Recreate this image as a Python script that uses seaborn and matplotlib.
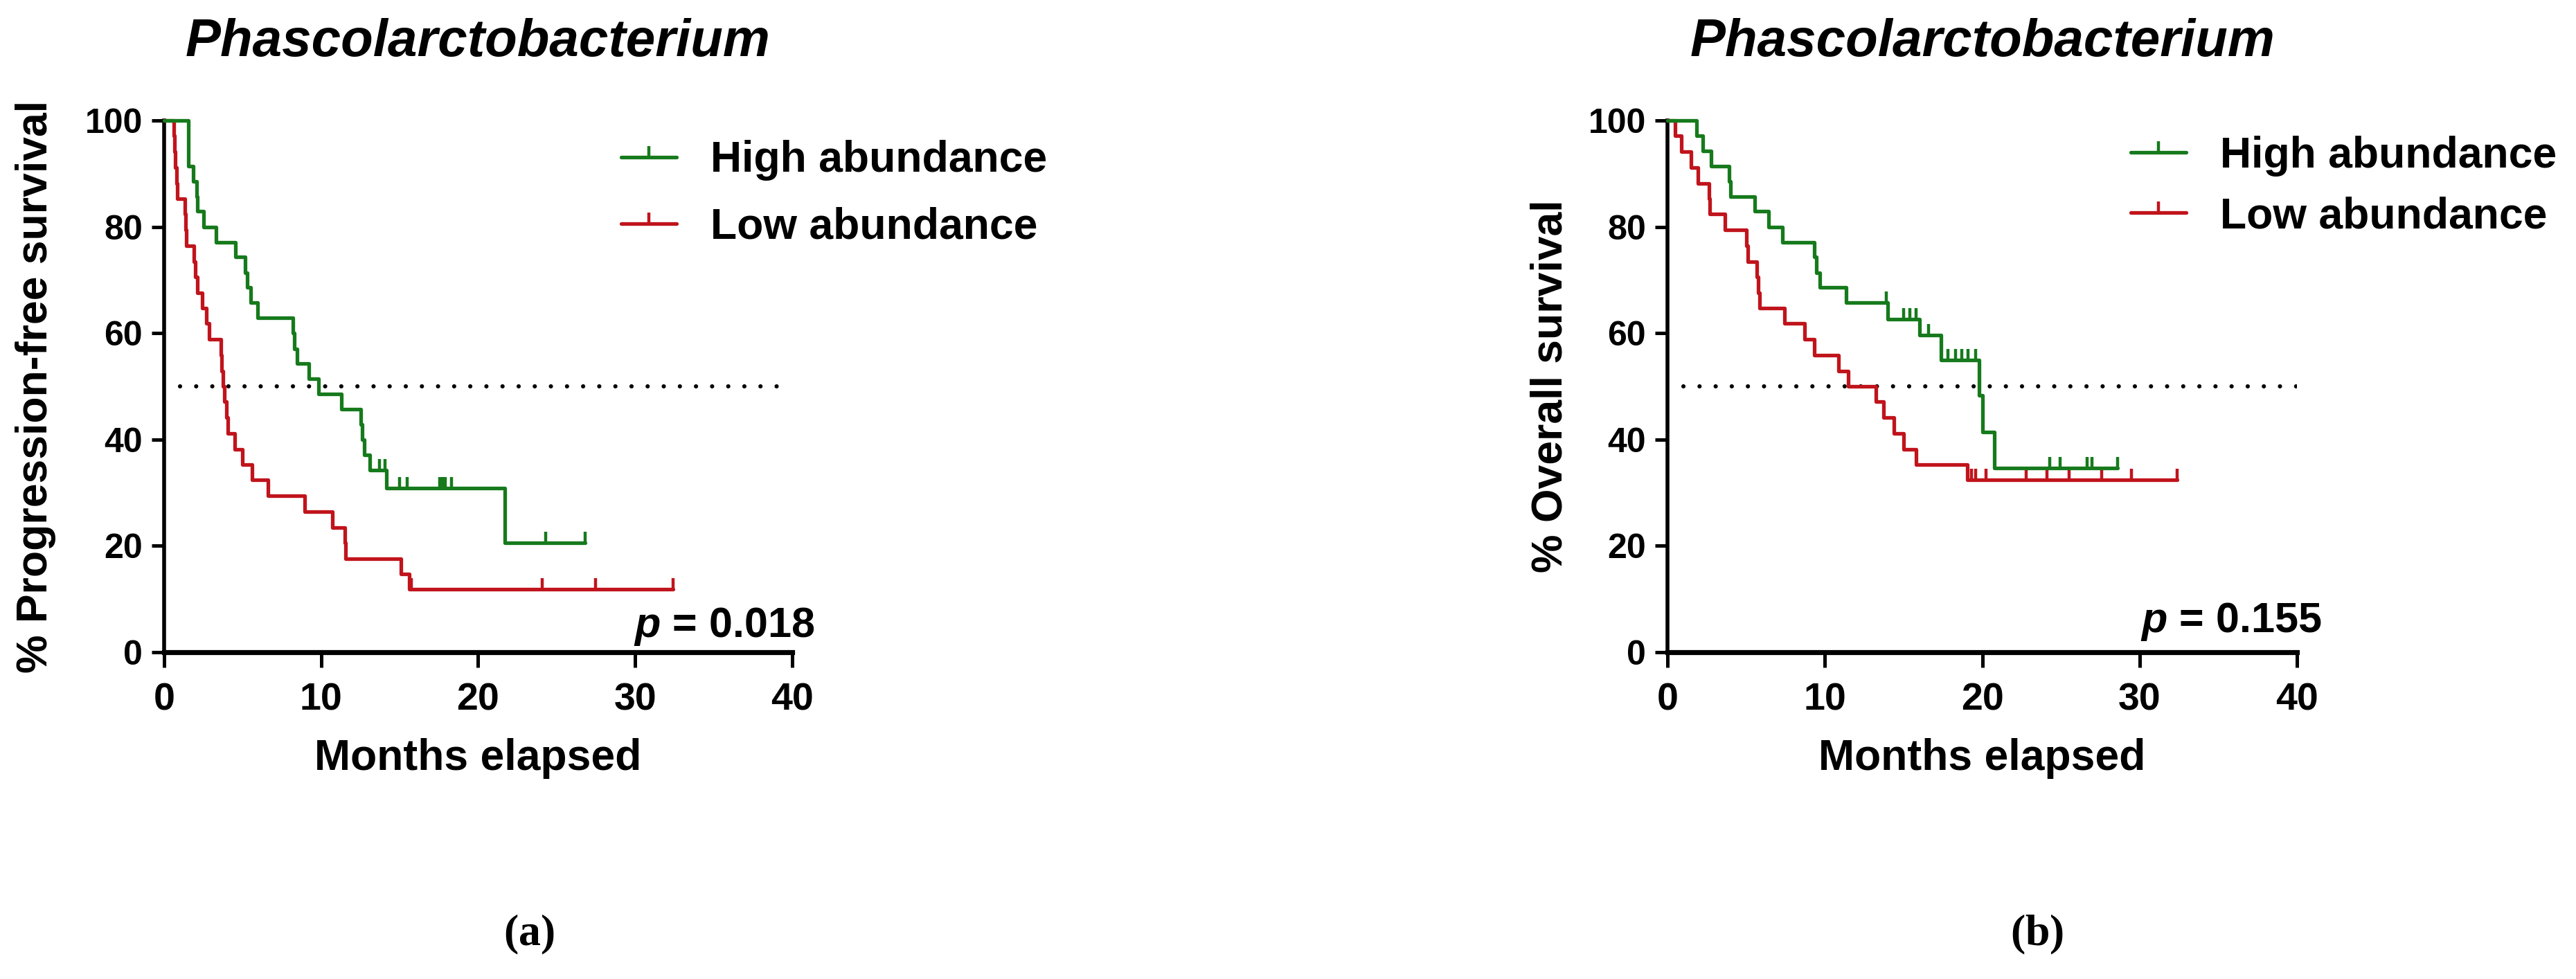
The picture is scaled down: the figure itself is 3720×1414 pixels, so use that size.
import numpy as np
import pandas as pd
import seaborn as sns
import matplotlib.pyplot as plt
from matplotlib.lines import Line2D

# ---- data (months, % surviving after each drop) ----
groups = ["High abundance", "Low abundance"]
colors = ["#167a1c", "#c0141c"]

# progression-free survival
pfs_high_t = [1.54, 1.84, 2.06, 2.12, 2.5, 3.3, 4.55, 5.14, 5.3, 5.5, 5.95, 8.22, 8.3, 8.45,
              9.2, 9.84, 11.3, 12.54, 12.62, 12.75, 13.1, 14.15, 21.7]
pfs_high_s = [91.4, 88.6, 85.7, 82.9, 80.0, 77.1, 74.3, 71.4, 68.6, 65.7, 62.9, 60.0, 57.1, 54.3,
              51.4, 48.6, 45.7, 42.9, 40.0, 37.1, 34.3, 30.9, 20.6]
pfs_high_cens = [13.73, 14.07, 15.0, 15.5, 17.54, 17.75, 17.9, 18.3, 24.3, 26.8]

pfs_low_t = [0.60, 0.66, 0.72, 0.80, 0.85, 1.32, 1.36, 1.40, 1.91, 2.0, 2.13, 2.42, 2.7, 2.86,
             3.6, 3.68, 3.76, 3.86, 3.98, 4.05, 4.5, 5.0, 5.6, 6.6, 8.94, 10.7, 11.5, 11.55,
             15.1, 15.6]
pfs_low_s = [97.1, 94.1, 91.2, 88.2, 85.3, 82.4, 79.4, 76.5, 73.5, 70.6, 67.6, 64.7, 61.8, 58.8,
             55.9, 52.9, 50.0, 47.1, 44.1, 41.2, 38.2, 35.3, 32.4, 29.4, 26.5, 23.5, 20.6, 17.6,
             14.7, 11.8]
pfs_low_cens = [15.76, 24.07, 27.5, 32.4]

# overall survival
os_high_t = [1.87, 2.25, 2.76, 3.9, 4.0, 5.54, 6.42, 7.3, 9.33, 9.45, 9.7, 11.35, 14.0, 16.0,
             17.4, 19.8, 20.0, 20.77]
os_high_s = [97.1, 94.3, 91.4, 88.6, 85.7, 82.9, 80.0, 77.1, 74.3, 71.4, 68.6, 65.7, 62.6, 59.6,
             55.0, 48.3, 41.4, 34.6]
os_high_cens = [13.9, 15.0, 15.4, 15.8, 16.6, 17.8, 18.3, 18.7, 19.1, 19.6, 24.3, 24.95,
                26.65, 26.95, 28.6]

os_low_t = [0.5, 0.9, 1.5, 1.95, 2.63, 2.7, 3.64, 5.03, 5.1, 5.66, 5.75, 5.85, 7.43, 8.7, 9.33,
            10.85, 11.48, 13.25, 13.75, 14.4, 15.0, 15.8, 19.06]
os_low_s = [97.1, 94.1, 91.2, 88.2, 85.3, 82.4, 79.4, 76.5, 73.5, 70.6, 67.6, 64.7, 61.8, 58.8,
            55.9, 52.9, 50.0, 47.1, 44.1, 41.2, 38.2, 35.3, 32.4]
os_low_cens = [19.3, 19.6, 20.25, 22.8, 24.1, 25.5, 27.6, 29.5, 32.4]

median_level = 50
median_span = [1, 40]
x_ticks = [0, 10, 20, 30, 40]
y_ticks = [0, 20, 40, 60, 80, 100]

titles = ["Phascolarctobacterium", "Phascolarctobacterium"]
ylabels = ["% Progression-free survival", "% Overall survival"]
p_texts = [r"$\mathit{p}$ = 0.018", r"$\mathit{p}$ = 0.155"]
panel_tags = [r"$\mathrm{(}\mathbf{a}\mathrm{)}$", r"$\mathrm{(}\mathbf{b}\mathrm{)}$"]

sns.set_theme(style="ticks")
plt.rcParams["font.family"] = ["Liberation Sans", "DejaVu Sans"]
plt.rcParams["font.weight"] = "bold"
plt.rcParams["mathtext.fontset"] = "custom"
plt.rcParams["mathtext.rm"] = "Liberation Serif"
plt.rcParams["mathtext.bf"] = "Liberation Serif:bold"
plt.rcParams["mathtext.it"] = "Liberation Sans:italic:bold"
for k in ["axes.edgecolor", "xtick.color", "ytick.color", "text.color", "axes.labelcolor"]:
    plt.rcParams[k] = "black"


def step_frame(times, surv, end):
    # survival curve as a step table that starts at 100 %
    return pd.DataFrame({"months": [0] + list(times) + [end],
                         "survival": [100] + list(surv) + [surv[-1]]})


def censor_level(times, surv, cens):
    idx = np.searchsorted(times, cens, side="right") - 1
    return [100 if i < 0 else surv[i] for i in idx]


fig = plt.figure(figsize=(18.6, 7.07), dpi=200)
axes = [fig.add_axes([0.0637, 0.3338, 0.2438, 0.5431]),
        fig.add_axes([0.6473, 0.3338, 0.2444, 0.5431])]

panels = [
    [(pfs_high_t, pfs_high_s, pfs_high_cens), (pfs_low_t, pfs_low_s, pfs_low_cens)],
    [(os_high_t, os_high_s, os_high_cens), (os_low_t, os_low_s, os_low_cens)],
]
ylab_x = [-0.205, -0.186]
p_pos = [(1.036, 0.029), (1.039, 0.038)]
leg_pos = [(0.728, 0.963), (0.736, 0.9715)]
leg_space = [0.6, 0.45]
tag_x = [764 / 3720, 2942 / 3720]

for n, ax in enumerate(axes):
    ax.plot(median_span, [median_level] * 2, color="black", lw=2.2,
            ls=(0, (0.01, 3.8)), dash_capstyle="round", zorder=1)
    # low first so the green line sits on top where they overlap
    for g in [1, 0]:
        t, s, c = panels[n][g]
        df = step_frame(t, s, max(c))
        sns.lineplot(data=df, x="months", y="survival", drawstyle="steps-post",
                     estimator=None, sort=False, color=colors[g], lw=1.9,
                     clip_on=False, ax=ax, zorder=3)
        ax.plot(c, censor_level(t, s, c), ls="none", marker=2, ms=5.6, mew=1.6,
                color=colors[g], clip_on=False, zorder=3)

    ax.set_xlim(0, 40)
    ax.set_ylim(0, 100)
    ax.set_xticks(x_ticks)
    ax.set_yticks(y_ticks)
    ax.set_xlabel("")
    ax.set_ylabel("")
    sns.despine(ax=ax)
    ax.spines["left"].set_linewidth(2.0)
    ax.spines["bottom"].set_linewidth(2.6)
    ax.tick_params(axis="y", length=6.5, width=1.8, pad=4.7, labelsize=18)
    ax.tick_params(axis="x", length=8, width=1.8, pad=7.5, labelsize=20)
    for lab in ax.get_xticklabels() + ax.get_yticklabels():
        lab.set_fontweight("bold")

    ax.text(0.5, 1.121, titles[n], transform=ax.transAxes, ha="center", va="baseline",
            fontsize=27.5, fontweight="bold", fontstyle="italic")
    ax.text(ylab_x[n], 0.5, ylabels[n], transform=ax.transAxes, rotation=90,
            ha="center", va="center", fontsize=22.5, fontweight="bold")
    ax.text(0.5, -0.221, "Months elapsed", transform=ax.transAxes, ha="center",
            va="baseline", fontsize=22.5, fontweight="bold")
    ax.text(p_pos[n][0], p_pos[n][1], p_texts[n], transform=ax.transAxes, ha="right",
            va="baseline", fontsize=22, fontweight="bold")

    handles = [Line2D([], [], color=colors[g], lw=1.9, marker=2, ms=5.6, mew=1.6)
               for g in range(2)]
    ax.legend(handles, groups, loc="upper left", bbox_to_anchor=leg_pos[n], frameon=False,
              borderpad=0, borderaxespad=0, handlelength=1.28, handletextpad=0.78,
              labelspacing=leg_space[n], prop={"weight": "bold", "size": 22.5})

    fig.text(tag_x[n], 0.045, panel_tags[n], fontsize=23, ha="center", va="center")

fig.savefig("out.png", dpi=200)
